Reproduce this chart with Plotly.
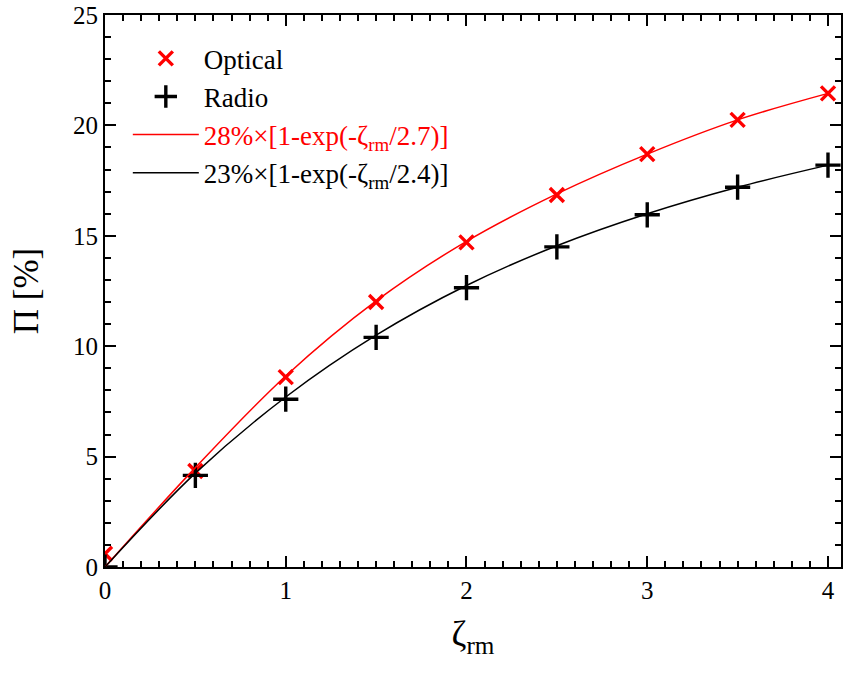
import plotly.graph_objects as go

zeta = [0, 0.5, 1, 1.5, 2, 2.5, 3, 3.5, 4]
optical = [0.6, 4.35, 8.6, 12.0, 14.7, 16.85, 18.7, 20.25, 21.45]
radio = [0.0, 4.15, 7.6, 10.4, 12.65, 14.5, 15.95, 17.2, 18.2]

# fitted curves, values at the same zeta positions
fit_opt = [0.0, 4.5, 8.65, 12.05, 14.75, 16.9, 18.7, 20.25, 21.45]
fit_rad = [0.0, 4.25, 7.7, 10.5, 12.75, 14.55, 16.0, 17.2, 18.2]

FONT = "Liberation Serif"

fig = go.Figure()
fig.add_trace(go.Scatter(x=zeta, y=optical, mode="markers", name="Optical",
                         marker=dict(symbol="x-thin", size=14, color="red",
                                     line=dict(width=3.4, color="red"))))
fig.add_trace(go.Scatter(x=zeta, y=radio, mode="markers", name="Radio",
                         marker=dict(symbol="cross-thin", size=18, color="black",
                                     line=dict(width=3.4, color="black"))))
fig.add_trace(go.Scatter(x=zeta, y=fit_opt, mode="lines",
                         name='<span style="color:red">28%×[1-exp(-ζ<sub>rm</sub>/2.7)]</span>',
                         line=dict(color="red", width=1.5, shape="spline", smoothing=1.0)))
fig.add_trace(go.Scatter(x=zeta, y=fit_rad, mode="lines",
                         name="23%×[1-exp(-ζ<sub>rm</sub>/2.4)]",
                         line=dict(color="black", width=1.5, shape="spline", smoothing=1.0)))

axis_common = dict(showline=True, linecolor="black", linewidth=2, mirror="ticks",
                   ticks="inside", ticklen=11, tickwidth=2, tickcolor="black",
                   showgrid=False, zeroline=False,
                   tickfont=dict(family=FONT, size=25, color="black"))

fig.update_xaxes(range=[0, 4.072], dtick=1, tick0=0,
                 minor=dict(dtick=0.1, ticks="inside", ticklen=6, tickwidth=2, tickcolor="black", showgrid=False),
                 title=dict(text="ζ<sub>rm</sub>", font=dict(family=FONT, size=36, color="black"), standoff=18),
                 **axis_common)
fig.update_yaxes(range=[0, 25], dtick=5, tick0=0,
                 minor=dict(dtick=1, ticks="inside", ticklen=6, tickwidth=2, tickcolor="black", showgrid=False),
                 title=dict(text="Π [%]", font=dict(family=FONT, size=35, color="black"), standoff=24),
                 **axis_common)

fig.update_layout(width=843, height=673, plot_bgcolor="white", paper_bgcolor="white",
                  margin=dict(l=105, r=0, t=15, b=106),
                  legend=dict(x=0.031, y=0.965, xanchor="left", yanchor="top",
                              font=dict(family=FONT, size=27, color="black"),
                              itemwidth=66, bgcolor="rgba(0,0,0,0)", tracegroupgap=0))

fig.write_html("out.html")
